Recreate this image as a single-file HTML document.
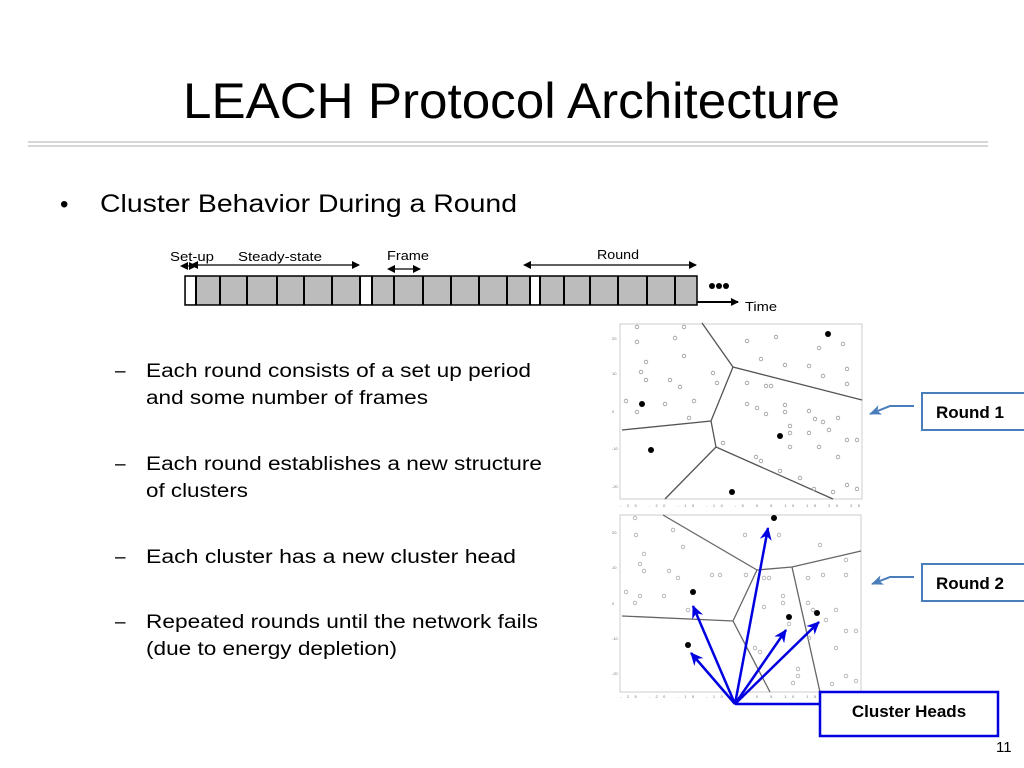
<!DOCTYPE html>
<html><head><meta charset="utf-8"><style>
html,body{margin:0;padding:0;background:#fff;}
svg{display:block;font-family:"Liberation Sans",sans-serif;}
</style></head><body>
<svg width="1024" height="768" viewBox="0 0 1024 768" xmlns="http://www.w3.org/2000/svg">
<defs>
<marker id="ah" markerWidth="8" markerHeight="8" refX="7" refY="4" orient="auto" markerUnits="userSpaceOnUse"><path d="M0,0 L8,4 L0,8 z" fill="#000"/></marker>
<marker id="ahs" markerWidth="8" markerHeight="8" refX="1" refY="4" orient="auto-start-reverse" markerUnits="userSpaceOnUse"><path d="M0,0 L8,4 L0,8 z" fill="#000"/></marker>
<marker id="bh" markerWidth="14" markerHeight="12" refX="12" refY="6" orient="auto" markerUnits="userSpaceOnUse"><path d="M0,0 L13,6 L0,12 L4,6 z" fill="#0000e0"/></marker>
<marker id="lh" markerWidth="12" markerHeight="10" refX="11" refY="5" orient="auto" markerUnits="userSpaceOnUse"><path d="M0,0 L12,5 L0,10 L3,5 z" fill="#4a7ebb"/></marker>
</defs>
<text x="183" y="118" font-size="50" textLength="657" lengthAdjust="spacingAndGlyphs">LEACH Protocol Architecture</text>
<line x1="28" y1="142" x2="988" y2="142" stroke="#c8c8c8" stroke-width="1.5"/>
<line x1="28" y1="146" x2="988" y2="146" stroke="#c8c8c8" stroke-width="1.5"/>
<text x="60" y="212" font-size="24">•</text>
<text x="100" y="212" font-size="25" textLength="417" lengthAdjust="spacingAndGlyphs">Cluster Behavior During a Round</text>

<!-- timeline -->
<g font-size="13">
<text x="170" y="261" textLength="44" lengthAdjust="spacingAndGlyphs">Set-up</text>
<text x="238" y="261" textLength="84" lengthAdjust="spacingAndGlyphs">Steady-state</text>
<text x="387" y="260" textLength="42" lengthAdjust="spacingAndGlyphs">Frame</text>
<text x="597" y="259" textLength="42" lengthAdjust="spacingAndGlyphs">Round</text>
<text x="745" y="311" textLength="32" lengthAdjust="spacingAndGlyphs">Time</text>
</g>
<line x1="187" y1="266" x2="196" y2="266" stroke="#000" marker-start="url(#ahs)" marker-end="url(#ah)"/>
<line x1="197" y1="265" x2="359" y2="265" stroke="#000" stroke-width="1.2" marker-start="url(#ahs)" marker-end="url(#ah)"/>
<line x1="394" y1="269" x2="420" y2="269" stroke="#000" stroke-width="1.2" marker-start="url(#ahs)" marker-end="url(#ah)"/>
<line x1="530" y1="265" x2="696" y2="265" stroke="#000" stroke-width="1.2" marker-start="url(#ahs)" marker-end="url(#ah)"/>
<rect x="185" y="276" width="512" height="29" fill="#bcbcbc" stroke="#000" stroke-width="1.5"/>
<rect x="186" y="277" width="10" height="27" fill="#fff"/>
<rect x="360" y="277" width="12" height="27" fill="#fff"/>
<rect x="530" y="277" width="10" height="27" fill="#fff"/>
<g stroke="#000" stroke-width="2">
<line x1="196" y1="276" x2="196" y2="305"/><line x1="220" y1="276" x2="220" y2="305"/><line x1="247" y1="276" x2="247" y2="305"/><line x1="277" y1="276" x2="277" y2="305"/><line x1="304" y1="276" x2="304" y2="305"/><line x1="332" y1="276" x2="332" y2="305"/><line x1="360" y1="276" x2="360" y2="305"/><line x1="372" y1="276" x2="372" y2="305"/><line x1="394" y1="276" x2="394" y2="305"/><line x1="423" y1="276" x2="423" y2="305"/><line x1="451" y1="276" x2="451" y2="305"/><line x1="479" y1="276" x2="479" y2="305"/><line x1="507" y1="276" x2="507" y2="305"/><line x1="530" y1="276" x2="530" y2="305"/><line x1="540" y1="276" x2="540" y2="305"/><line x1="564" y1="276" x2="564" y2="305"/><line x1="590" y1="276" x2="590" y2="305"/><line x1="618" y1="276" x2="618" y2="305"/><line x1="647" y1="276" x2="647" y2="305"/><line x1="675" y1="276" x2="675" y2="305"/>
</g>
<line x1="697" y1="302" x2="738" y2="302" stroke="#000" stroke-width="2" marker-end="url(#ah)"/>
<circle cx="712" cy="286" r="3" fill="#000"/><circle cx="719" cy="286" r="3" fill="#000"/><circle cx="726" cy="286" r="3" fill="#000"/>

<!-- sub bullets -->
<g font-size="19">
<text x="115" y="377">–</text><text x="146" y="377" textLength="385" lengthAdjust="spacingAndGlyphs">Each round consists of a set up period</text>
<text x="146" y="404" textLength="282" lengthAdjust="spacingAndGlyphs">and some number of frames</text>
<text x="115" y="470">–</text><text x="146" y="470" textLength="396" lengthAdjust="spacingAndGlyphs">Each round establishes a new structure</text>
<text x="146" y="497" textLength="102" lengthAdjust="spacingAndGlyphs">of clusters</text>
<text x="115" y="563">–</text><text x="146" y="563" textLength="370" lengthAdjust="spacingAndGlyphs">Each cluster has a new  cluster head</text>
<text x="115" y="628">–</text><text x="146" y="628" textLength="392" lengthAdjust="spacingAndGlyphs">Repeated rounds until the network fails</text>
<text x="146" y="655" textLength="251" lengthAdjust="spacingAndGlyphs">(due to energy depletion)</text>
</g>

<!-- plot 1 -->
<rect x="620" y="324" width="242" height="175" fill="#fff" stroke="#ccc"/>
<g stroke="#555" stroke-width="1.3" fill="none">
<polyline points="702,323 733,367 862,400"/>
<polyline points="733,367 711,421 622,430"/>
<polyline points="711,421 716,447 665,499"/>
<line x1="716" y1="447" x2="833" y2="499"/>
</g>
<g fill="none" stroke="#999" stroke-width="0.8">
<circle cx="637" cy="327" r="1.8"/><circle cx="684" cy="327" r="1.8"/><circle cx="675" cy="338" r="1.8"/><circle cx="637" cy="342" r="1.8"/><circle cx="646" cy="362" r="1.8"/><circle cx="684" cy="356" r="1.8"/><circle cx="641" cy="372" r="1.8"/><circle cx="646" cy="380" r="1.8"/><circle cx="670" cy="380" r="1.8"/><circle cx="680" cy="387" r="1.8"/><circle cx="713" cy="373" r="1.8"/><circle cx="717" cy="383" r="1.8"/><circle cx="626" cy="401" r="1.8"/><circle cx="665" cy="404" r="1.8"/><circle cx="694" cy="401" r="1.8"/><circle cx="637" cy="412" r="1.8"/><circle cx="689" cy="418" r="1.8"/><circle cx="723" cy="443" r="1.8"/>
<circle cx="747" cy="341" r="1.8"/><circle cx="761" cy="359" r="1.8"/><circle cx="776" cy="337" r="1.8"/><circle cx="785" cy="365" r="1.8"/><circle cx="819" cy="348" r="1.8"/><circle cx="843" cy="344" r="1.8"/><circle cx="809" cy="366" r="1.8"/><circle cx="747" cy="383" r="1.8"/><circle cx="766" cy="386" r="1.8"/><circle cx="771" cy="386" r="1.8"/><circle cx="823" cy="376" r="1.8"/><circle cx="847" cy="384" r="1.8"/><circle cx="847" cy="369" r="1.8"/><circle cx="747" cy="404" r="1.8"/><circle cx="757" cy="408" r="1.8"/><circle cx="766" cy="414" r="1.8"/><circle cx="785" cy="405" r="1.8"/><circle cx="785" cy="412" r="1.8"/><circle cx="809" cy="411" r="1.8"/><circle cx="815" cy="419" r="1.8"/><circle cx="823" cy="422" r="1.8"/><circle cx="838" cy="418" r="1.8"/><circle cx="790" cy="426" r="1.8"/><circle cx="790" cy="433" r="1.8"/><circle cx="809" cy="433" r="1.8"/><circle cx="829" cy="430" r="1.8"/><circle cx="790" cy="447" r="1.8"/><circle cx="819" cy="447" r="1.8"/><circle cx="847" cy="440" r="1.8"/><circle cx="857" cy="440" r="1.8"/><circle cx="838" cy="457" r="1.8"/><circle cx="756" cy="457" r="1.8"/><circle cx="761" cy="461" r="1.8"/><circle cx="780" cy="471" r="1.8"/><circle cx="800" cy="478" r="1.8"/><circle cx="847" cy="485" r="1.8"/><circle cx="857" cy="489" r="1.8"/><circle cx="833" cy="492" r="1.8"/><circle cx="814" cy="489" r="1.8"/>
</g>
<g fill="#000"><circle cx="828" cy="334" r="3"/><circle cx="642" cy="404" r="3"/><circle cx="780" cy="436" r="3"/><circle cx="651" cy="450" r="3"/><circle cx="732" cy="492" r="3"/></g>
<g font-size="4" fill="#777"><text x="612" y="340">20</text><text x="612" y="375">10</text><text x="612" y="413">0</text><text x="612" y="450">-10</text><text x="612" y="488">-20</text><text x="620" y="507" textLength="240" lengthAdjust="spacing">-25 -20 -15 -10 -5 0 5 10 15 20 25</text></g>

<!-- plot 2 -->
<rect x="620" y="515" width="241" height="177" fill="#fff" stroke="#ccc"/>
<g stroke="#666" stroke-width="1.3" fill="none">
<polyline points="663,515 757,570 792,567 861,551"/>
<polyline points="757,570 733,621 622,616"/>
<line x1="733" y1="621" x2="770" y2="692"/>
<line x1="792" y1="567" x2="820" y2="692"/>
</g>
<g fill="none" stroke="#aaa" stroke-width="0.8">
<circle cx="635" cy="518" r="1.8"/><circle cx="673" cy="530" r="1.8"/><circle cx="636" cy="535" r="1.8"/><circle cx="683" cy="547" r="1.8"/><circle cx="644" cy="554" r="1.8"/><circle cx="640" cy="564" r="1.8"/><circle cx="644" cy="571" r="1.8"/><circle cx="669" cy="571" r="1.8"/><circle cx="678" cy="578" r="1.8"/><circle cx="712" cy="575" r="1.8"/><circle cx="720" cy="575" r="1.8"/><circle cx="626" cy="592" r="1.8"/><circle cx="640" cy="596" r="1.8"/><circle cx="664" cy="596" r="1.8"/><circle cx="635" cy="603" r="1.8"/><circle cx="688" cy="610" r="1.8"/><circle cx="746" cy="575" r="1.8"/><circle cx="764" cy="578" r="1.8"/><circle cx="769" cy="578" r="1.8"/><circle cx="783" cy="596" r="1.8"/><circle cx="783" cy="603" r="1.8"/><circle cx="764" cy="607" r="1.8"/><circle cx="808" cy="578" r="1.8"/><circle cx="823" cy="575" r="1.8"/><circle cx="846" cy="560" r="1.8"/><circle cx="846" cy="575" r="1.8"/><circle cx="808" cy="603" r="1.8"/><circle cx="813" cy="610" r="1.8"/><circle cx="836" cy="610" r="1.8"/><circle cx="826" cy="620" r="1.8"/><circle cx="846" cy="631" r="1.8"/><circle cx="856" cy="631" r="1.8"/><circle cx="789" cy="624" r="1.8"/><circle cx="809" cy="638" r="1.8"/><circle cx="836" cy="648" r="1.8"/><circle cx="755" cy="648" r="1.8"/><circle cx="760" cy="652" r="1.8"/><circle cx="798" cy="669" r="1.8"/><circle cx="798" cy="676" r="1.8"/><circle cx="793" cy="683" r="1.8"/><circle cx="832" cy="684" r="1.8"/><circle cx="846" cy="676" r="1.8"/><circle cx="856" cy="681" r="1.8"/><circle cx="745" cy="535" r="1.8"/><circle cx="779" cy="535" r="1.8"/><circle cx="820" cy="545" r="1.8"/>
</g>
<g fill="#000"><circle cx="774" cy="518" r="3"/><circle cx="693" cy="592" r="3"/><circle cx="789" cy="617" r="3"/><circle cx="817" cy="613" r="3"/><circle cx="688" cy="645" r="3"/></g>
<g font-size="4" fill="#777"><text x="612" y="534">20</text><text x="612" y="569">10</text><text x="612" y="605">0</text><text x="612" y="640">-10</text><text x="612" y="675">-20</text><text x="620" y="698" textLength="240" lengthAdjust="spacing">-25 -20 -15 -10 -5 0 5 10 15 20 25</text></g>

<!-- blue arrows -->
<g stroke="#0000e0" stroke-width="2.5" fill="none">
<line x1="735" y1="704" x2="768" y2="528" marker-end="url(#bh)"/>
<line x1="735" y1="704" x2="693" y2="606" marker-end="url(#bh)"/>
<line x1="735" y1="704" x2="786" y2="630" marker-end="url(#bh)"/>
<line x1="735" y1="704" x2="819" y2="622" marker-end="url(#bh)"/>
<line x1="735" y1="704" x2="691" y2="653" marker-end="url(#bh)"/>
<line x1="735" y1="704" x2="820" y2="704"/>
</g>
<rect x="820" y="692" width="178" height="44" fill="#fff" stroke="#0000e0" stroke-width="2.5"/>
<text x="909" y="717" font-size="17" font-weight="bold" text-anchor="middle">Cluster Heads</text>

<!-- round labels -->
<path d="M914,406 L890,406 L870,414" stroke="#4a7ebb" stroke-width="2" fill="none" marker-end="url(#lh)"/>
<path d="M914,577 L890,577 L872,584" stroke="#4a7ebb" stroke-width="2" fill="none" marker-end="url(#lh)"/>
<rect x="922" y="393" width="104" height="37" fill="#fff" stroke="#4a7ebb" stroke-width="2"/>
<rect x="922" y="564" width="104" height="37" fill="#fff" stroke="#4a7ebb" stroke-width="2"/>
<text x="936" y="418" font-size="17" font-weight="bold">Round 1</text>
<text x="936" y="589" font-size="17" font-weight="bold">Round 2</text>
<text x="996" y="752" font-size="15">11</text>
</svg>
</body></html>
